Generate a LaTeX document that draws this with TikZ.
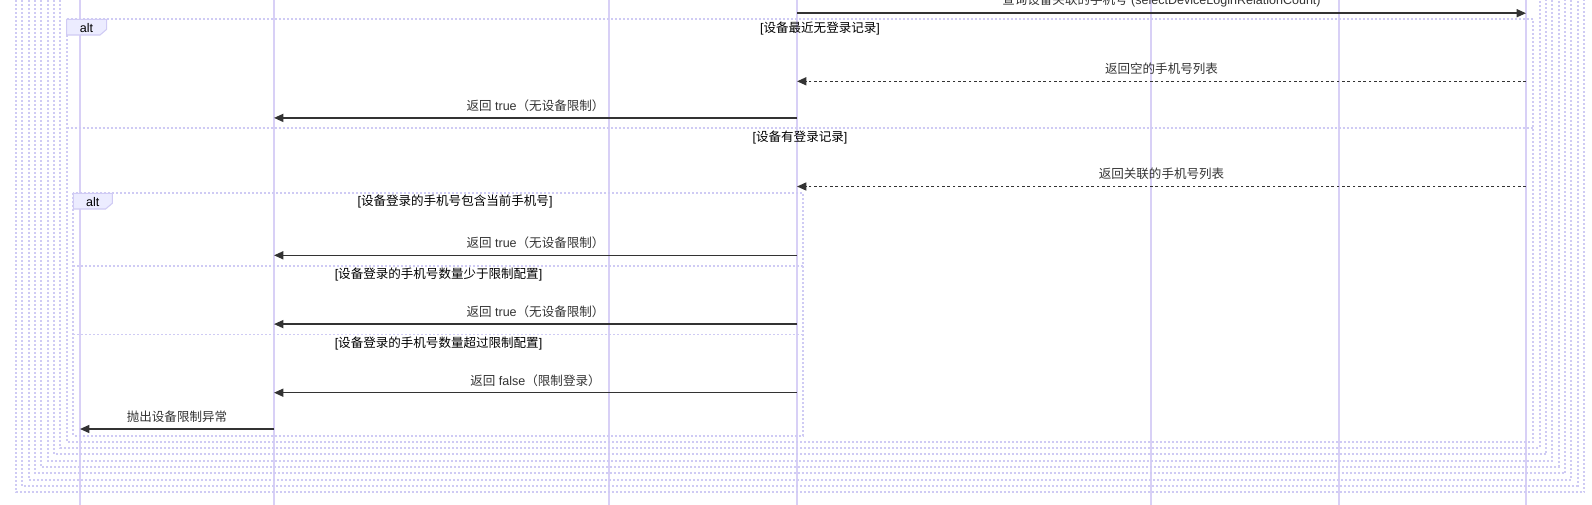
\documentclass[tikz,border=0pt]{standalone}
\usepackage{fontspec}
\setmainfont{Liberation Sans}
\newfontfamily\cjk{Noto Sans CJK SC}
\usetikzlibrary{arrows.meta}
\definecolor{life}{HTML}{D8D0F6}
\definecolor{loopc}{HTML}{CFCBF4}
\definecolor{lblfill}{HTML}{ECECFF}
\definecolor{lblborder}{HTML}{D0CBF4}
\definecolor{msgc}{HTML}{333333}
\tikzset{
  lifeline/.style={draw=life, line width=1pt},
  frameline/.style={draw=loopc, line width=1.4pt, dash pattern=on 1.5pt off 1.5pt},
  msgline/.style={draw=msgc, line width=1.1pt, -{Triangle[length=7pt,width=6pt]}},
  replyline/.style={msgline, dash pattern=on 2pt off 2pt},
  msgtext/.style={text=msgc, font=\fontsize{9.4}{11}\selectfont, inner sep=0pt, yshift=9.3pt},
  secttext/.style={text=black, font=\fontsize{9.4}{11}\selectfont, inner sep=0pt},
  altbox/.style={fill=lblfill, draw=lblborder, line width=0.8pt},
}
\begin{document}
\begin{tikzpicture}[x=0.75pt,y=-0.75pt]
\useasboundingbox (0,0) rectangle (1592,504);
\clip (0,0) rectangle (1592,504);
% lifelines
\foreach \n/\x in {a/80,b/274,c/609,d/797,e/1151,f/1339,g/1526}{
  \coordinate (\n t) at (\x,-10);
  \coordinate (\n b) at (\x,514);
  \draw[lifeline] (\n t) -- (\n b);
}
% outer enclosing frames
\foreach \i in {1,...,8}{
  \draw[frameline] ({66.7-6.33*\i},-40) rectangle ({1533.3+6.33*\i},{441.7+6.33*\i});
}
% outer alt
\draw[frameline] (66.7,19.3) rectangle (1533.3,441.7);
\draw[frameline] (66.7,128.2) -- (1533.3,128.2);
\draw[altbox] (66.7,19.3) -- (106.7,19.3) -- (106.7,29.3) -- (100,35) -- (66.7,35) -- cycle;
\node[secttext] (alt1) at (86.5,28) {alt};
% inner alt
\draw[frameline] (73.3,193.3) rectangle (803.3,435.7);
\draw[frameline] (73.3,266) -- (803.3,266);
\draw[frameline] (73.3,334.5) -- (803.3,334.5);
\draw[altbox] (73.3,193.3) -- (112.3,193.3) -- (112.3,203.3) -- (105.6,209) -- (73.3,209) -- cycle;
\node[secttext] (alt2) at (92.8,202) {alt};
% section labels
\node[secttext] (s1) at (820,28.5) {[{\cjk 设备最近无登录记录}]};
\node[secttext] (s2) at (800,137.5) {[{\cjk 设备有登录记录}]};
\node[secttext] (s3) at (455,201.7) {[{\cjk 设备登录的手机号包含当前手机号}]};
\node[secttext] (s4) at (438.5,274.5) {[{\cjk 设备登录的手机号数量少于限制配置}]};
\node[secttext] (s5) at (438.5,343.5) {[{\cjk 设备登录的手机号数量超过限制配置}]};
% message endpoints
\coordinate (m1s) at (797,13.2);  \coordinate (m1e) at (1526,13.2);
\coordinate (m2s) at (1526,81.3); \coordinate (m2e) at (797,81.3);
\coordinate (m3s) at (797,117.9); \coordinate (m3e) at (274,117.9);
\coordinate (m4s) at (1526,186.5);\coordinate (m4e) at (797,186.5);
\coordinate (m5s) at (797,255.3); \coordinate (m5e) at (274,255.3);
\coordinate (m6s) at (797,324.1); \coordinate (m6e) at (274,324.1);
\coordinate (m7s) at (797,392.7); \coordinate (m7e) at (274,392.7);
\coordinate (m8s) at (274,429);   \coordinate (m8e) at (80,429);
% messages
\draw[msgline] (m1s) -- node[msgtext]{{\cjk 查询设备关联的手机号} (selectDeviceLoginRelationCount)} (m1e);
\draw[replyline] (m2s) -- node[msgtext]{\cjk 返回空的手机号列表} (m2e);
\draw[msgline] (m3s) -- node[msgtext]{{\cjk 返回} true{\cjk （无设备限制）}} (m3e);
\draw[replyline] (m4s) -- node[msgtext]{\cjk 返回关联的手机号列表} (m4e);
\draw[msgline] (m5s) -- node[msgtext]{{\cjk 返回} true{\cjk （无设备限制）}} (m5e);
\draw[msgline] (m6s) -- node[msgtext]{{\cjk 返回} true{\cjk （无设备限制）}} (m6e);
\draw[msgline] (m7s) -- node[msgtext]{{\cjk 返回} false{\cjk （限制登录）}} (m7e);
\draw[msgline] (m8s) -- node[msgtext]{\cjk 抛出设备限制异常} (m8e);
\end{tikzpicture}
\end{document}
